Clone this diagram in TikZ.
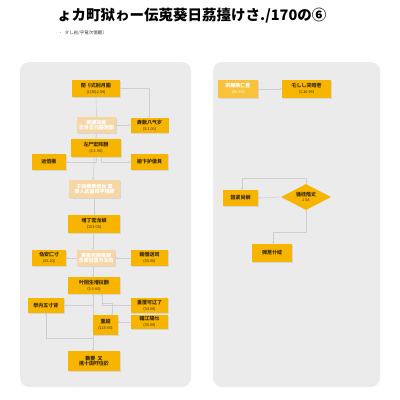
\documentclass[tikz,border=0pt]{standalone}
\usepackage{fontspec}
\newfontfamily\cjk{Noto Sans CJK JP}
\usetikzlibrary{shapes.geometric,shadows,arrows.meta}
\definecolor{mainc}{HTML}{F7B500}
\definecolor{palec}{HTML}{F6D6A4}
\definecolor{litec}{HTML}{F8C33A}
\definecolor{panelc}{HTML}{EBEBEB}
\definecolor{linec}{HTML}{CFCFCF}
\definecolor{txtc}{HTML}{3A2A00}
\newcommand{\ta}[1]{{\fontsize{5}{5.6}\selectfont\bfseries #1}}
\newcommand{\tb}[1]{{\fontsize{3.8}{4.4}\selectfont #1}}
\begin{document}
\begin{tikzpicture}[x=1pt,y=-1pt,
  every node/.style={font=\cjk\fontsize{5}{5.6}\selectfont},
  box/.style={rectangle, fill=mainc, text=txtc, inner sep=0pt, align=center,
     drop shadow={opacity=0.18, shadow xshift=0.6pt, shadow yshift=-0.6pt}},
  palebox/.style={box, fill=palec, text=white},
  litebox/.style={box, fill=litec, text=white},
  dia/.style={diamond, fill=mainc, text=txtc, inner sep=0pt, align=center, aspect=1.9},
  conn/.style={draw=linec, line width=0.5pt, -{Stealth[length=2pt,width=2pt]}},
  panel/.style={fill=panelc, rounded corners=9pt, draw=none}]
\useasboundingbox (0,0) rectangle (400,400);
\fill[white] (0,0) rectangle (400,400);
% panels
\fill[panel] (20,62) rectangle (191,387);
\fill[panel] (213,62) rectangle (380,387);
% title
\node[anchor=west, inner sep=0pt, text=black, font=\cjk] (title) at (57,16)
  {\fontsize{14.5}{16}\selectfont\bfseries ょカ町狱ゎー伝莵葵日茘擡けさ./170の⑥};
\node[anchor=west, inner sep=0pt, text=black!75, font=\cjk] (sub) at (58,33)
  {\fontsize{4.5}{5}\selectfont ・\ \ タし岩/乎竜次億翻）};
% left panel nodes
\node[box, minimum width=48, minimum height=17] (n1) at (96,88.5) {\ta{閉刂式别月圖}\\\tb{(1(36)2.39)}};
\node[palebox, minimum width=39, minimum height=16] (n2) at (96.5,125) {\ta{晒連設差}\\\ta{志肖去元脳測圖}};
\node[box, minimum width=38, minimum height=15] (n3) at (149.5,125.5) {\ta{寿数八气岁}\\\tb{(3:1.00)}};
\node[box, minimum width=50, minimum height=18] (n4) at (96,148) {\ta{左尸宏阵翻}\\\tb{(3:1.00)}};
\node[box, minimum width=34, minimum height=16] (n5) at (49,162) {\ta{远倍撒}};
\node[box, minimum width=37, minimum height=16] (n6) at (149.5,162) {\ta{搬卞护傲貝}};
\node[palebox, minimum width=51, minimum height=18] (n7) at (94.5,189) {\ta{子肉徴寒培台 圖}\\\ta{委人武昌司宇粗鳃}};
\node[box, minimum width=52, minimum height=18] (n8) at (94,224) {\ta{増丁宏龙娯}\\\tb{(153-05)}};
\node[box, minimum width=34, minimum height=16] (n9) at (49,258) {\ta{刍安匚寸}\\\tb{(55.20)}};
\node[palebox, minimum width=38, minimum height=16] (n10) at (96,258) {\ta{裏重否國量腿}\\\ta{合覺俗宫力文坞}};
\node[box, minimum width=37, minimum height=16] (n11) at (149.5,258) {\ta{輸僭送司}\\\tb{(53.00)}};
\node[box, minimum width=52, minimum height=17] (n12) at (94,285.5) {\ta{叶回生增拉翻}\\\tb{(3:1-00)}};
\node[box, minimum width=36, minimum height=15] (n13) at (46,305.5) {\ta{學内五寸肾}};
\node[box, minimum width=37, minimum height=15] (n14) at (149.5,305.5) {\ta{重覆可辽了}\\\tb{(34.00)}};
\node[box, minimum width=37, minimum height=14] (n15) at (149.5,322) {\ta{輻江陽乜}\\\tb{(33.00)}};
\node[box, minimum width=25, minimum height=20] (n16) at (105.5,325) {\ta{重超}\\\tb{(125-00)}};
\node[box, minimum width=52, minimum height=20] (n17) at (94,361) {\ta{數要\ \ 又}\\\ta{携十田吁住於}};
% right panel nodes
\node[litebox, minimum width=40, minimum height=18] (n18) at (238,89) {\ta{宗錘斯匚豊}\\\tb{(49-43)}};
\node[box, minimum width=49, minimum height=18] (n19) at (306.5,89) {\ta{乇し乚宊昭壱}\\\tb{(1.26.99)}};
\node[box, minimum width=35, minimum height=16] (n20) at (240.5,198) {\ta{韶紧尚娴}};
\node[dia, minimum width=50, minimum height=26] (n21) at (306,197) {\ta{循桂階丈}\\\tb{1.5A}};
\node[box, minimum width=40, minimum height=18] (n22) at (272,253) {\ta{弾苨卄绽}};
% helper coordinates
\coordinate (j1) at (93,338);
\coordinate (j2) at (102,303);
\coordinate (j3) at (112,303);
\coordinate (r1) at (242,178);
\coordinate (r2) at (273,232);
% left connectors
\draw[conn] (n1.east) -| (n3.north);
\draw[conn] (n1.south) -- (n2.north);
\draw[conn] (n2.east) -- (n2.east -| n3.west);
\draw[conn] (n2.south) -- (n4.north);
\draw[conn] (n4.south) |- (n5.east);
\draw[conn] ([xshift=5pt]n4.south) |- (n6.west);
\draw[conn] ([xshift=-1.5pt]n4.south) -- ([xshift=-1.5pt]n7.north);
\draw[conn] (n7.south) -- (n7.south |- n8.north);
\draw[conn] (n8.south -| j1) -- (n10.north -| j1);
\draw[conn] (n10.west) -- (n9.east);
\draw[conn] (n11.west) -- (n10.east);
\draw[conn] (n10.south -| j1) -- (n12.north -| j1);
\draw[conn] (n12.south -| j1) |- (n13.east);
\draw[conn] (n16.north -| j1) -- (n12.south -| j1);
\draw[conn] (n14.west) -| (n12.south -| j2);
\draw[conn] (j2) -| (n16.north -| j3);
\draw[conn] (n15.west) -- (n15.west -| n16.east);
\draw[conn] (n16.south -| j1) -- (n17.north -| j1);
\draw[conn] (j1) -| (n13.south);
% right connectors
\draw[conn] (n18.east) -- (n19.west);
\draw[conn] (n21.north) |- (r1) -- (n20.north -| r1);
\draw[conn] (n21.west) -- (n20.east);
\draw[conn, {Stealth[length=2pt,width=2pt]}-{Stealth[length=2pt,width=2pt]}] (n21.south) |- (r2) -- (n22.north -| r2);
\end{tikzpicture}
\end{document}
